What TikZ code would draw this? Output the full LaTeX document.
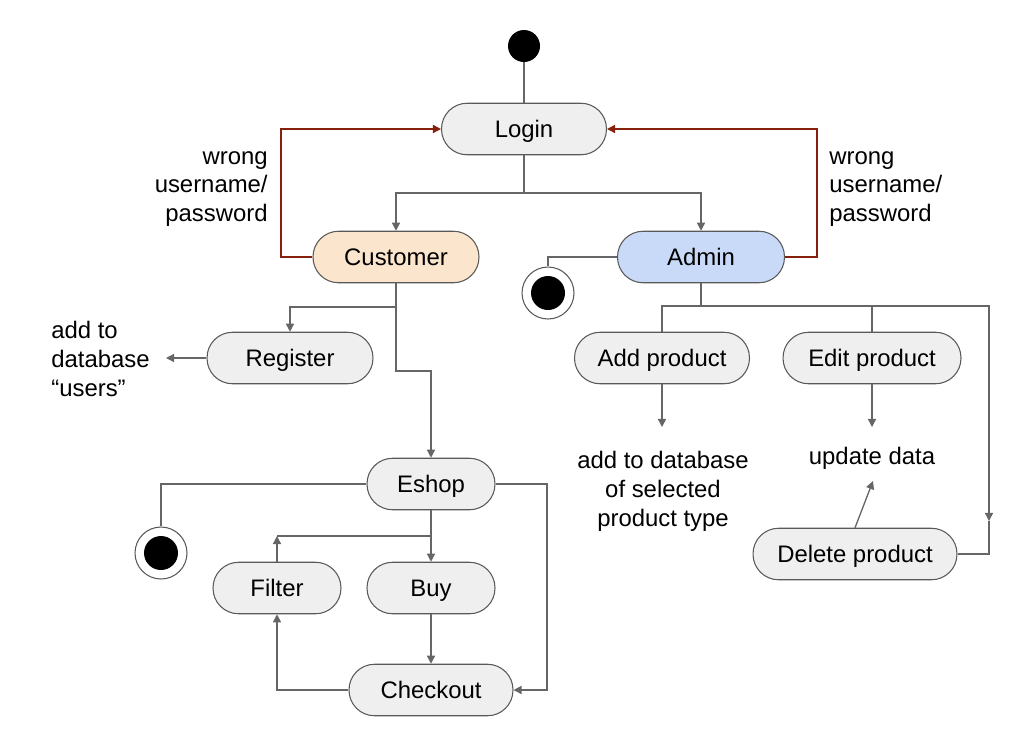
\documentclass[tikz,border=0pt]{standalone}
\usepackage{fontspec}
\setmainfont{Liberation Sans}
\usetikzlibrary{arrows.meta}
\definecolor{linegray}{HTML}{666666}
\definecolor{bordergray}{HTML}{595959}
\definecolor{boxgray}{HTML}{EFEFEF}
\definecolor{custfill}{HTML}{FCE5CD}
\definecolor{adminfill}{HTML}{C9DAF8}
\definecolor{berry}{HTML}{85200C}
\tikzset{
  act/.style={draw=bordergray, line width=0.6pt, fill=boxgray, rectangle, rounded corners=0.51cm,
    minimum height=1.03cm, inner sep=0pt, text height=12pt, text depth=1.8pt,
    font=\fontsize{13.6}{16.3}\selectfont},
  txt/.style={inner sep=0pt, font=\fontsize{13.6}{16.4}\selectfont},
  conn/.style={draw=linegray, line width=0.75pt},
  arr/.style={conn, -{Triangle[length=4.6pt,width=4.6pt]}},
  back/.style={draw=berry, line width=0.75pt, -{Triangle[length=4.6pt,width=4.6pt]}},
  startdot/.style={circle, fill=black, minimum size=0.64cm, inner sep=0pt},
  endring/.style={circle, draw=bordergray, fill=white, line width=0.6pt, minimum size=1.04cm, inner sep=0pt},
  enddot/.style={circle, fill=black, minimum size=0.68cm, inner sep=0pt}
}
\begin{document}
\begin{tikzpicture}[x=0.02cm,y=-0.02cm]
\path[use as bounding box] (0,0) rectangle (1010,738);

% nodes
\node[startdot] (start) at (524,46) {};
\node[act, minimum width=3.3cm] (login) at (524,129) {Login};
\node[act, minimum width=3.32cm, fill=custfill] (cust) at (396,257) {Customer};
\node[act, minimum width=3.34cm, fill=adminfill] (admin) at (701,257) {Admin};
\node[act, minimum width=3.32cm] (reg) at (290,358) {Register};
\node[act, minimum width=3.5cm] (addp) at (662,358) {Add product};
\node[act, minimum width=3.56cm] (editp) at (872,358) {Edit product};
\node[act, minimum width=2.56cm] (eshop) at (431,484) {Eshop};
\node[act, minimum width=2.56cm] (filter) at (277,588) {Filter};
\node[act, minimum width=2.56cm] (buy) at (431,588) {Buy};
\node[act, minimum width=3.28cm] (checkout) at (431,690) {Checkout};
\node[act, minimum width=4.08cm] (delp) at (855,554) {Delete product};

\node[endring] (end1) at (548,293) {};
\node[enddot] (end1in) at (548,293) {};
\node[endring] (end2) at (161,553) {};
\node[enddot] (end2in) at (161,553) {};

% text labels
\node[txt, anchor=east, align=right] (lblL) at (268,189) {wrong\\username/\\password};
\node[txt, anchor=west, align=left] (lblR) at (829,189) {wrong\\username/\\password};
\node[txt, anchor=west, align=left] (regtxt) at (51,359) {add to\\database\\“users”};
\node[txt, align=center] (addtxt) at (663,491) {add to database\\of selected\\product type};
\node[txt] (upd) at (872,458) {update data};

% coordinates
\coordinate (j1) at (524,193);
\coordinate (rl) at (281,129);
\coordinate (rr) at (817,129);
\coordinate (j2) at (701,306);
\coordinate (dmid) at (989,521);
\coordinate (a1) at (662,427);
\coordinate (e1) at (872,427);
\coordinate (u1) at (873,481);
\coordinate (j3) at (396,307);
\coordinate (j3b) at (396,371);
\coordinate (rg1) at (166,358);
\coordinate (c2) at (547,690);
\coordinate (j4) at (431,536);
\coordinate (f1) at (277,536);

% connectors
\draw[conn] (start) -- (login);
\draw[conn] (login.south) -- (j1);
\draw[arr] (j1) -| (cust.north);
\draw[arr] (j1) -| (admin.north);

\draw[back] (cust.west) -| (rl) -- (login.west);
\draw[back] (admin.east) -| (rr) -- (login.east);

\draw[conn] (admin.west) -| (end1.north);
\draw[conn] (admin.south) -- (j2);
\draw[conn] (j2) -| (addp.north);
\draw[conn] (j2) -| (editp.north);
\draw[arr] (j2) -| (dmid);
\draw[conn] (dmid) |- (delp.east);

\draw[arr] (addp.south) -- (a1);
\draw[arr] (editp.south) -- (e1);
\draw[arr] (delp.north) -- (u1);

\draw[conn] (cust.south) -- (j3);
\draw[arr] (j3) -| (reg.north);
\draw[arr] (j3) -- (j3b) -| (eshop.north);
\draw[arr] (reg.west) -- (rg1);

\draw[conn] (eshop.west) -| (end2.north);
\draw[arr] (eshop.east) -| (c2) -- (checkout.east);
\draw[arr] (eshop.south) -- (buy.north);
\draw[arr] (filter.north) -- (f1);
\draw[conn] (f1) -- (j4);
\draw[arr] (buy.south) -- (checkout.north);
\draw[arr] (checkout.west) -| (filter.south);
\end{tikzpicture}
\end{document}
